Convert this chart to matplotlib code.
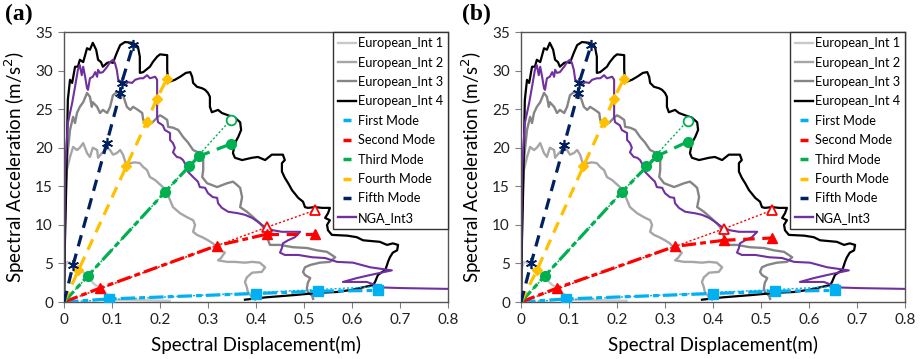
import matplotlib
matplotlib.use("Agg")
import matplotlib.pyplot as plt
from matplotlib.lines import Line2D

plt.rcParams['font.family'] = ['Lato', 'DejaVu Sans']

# ---------------- spectra (Sd [m], Sa [m/s2]) ----------------
x_int1 = [0, 0.002, 0.006, 0.0125, 0.017, 0.023, 0.029, 0.033, 0.040, 0.048, 0.054, 0.065,
          0.075, 0.085, 0.096, 0.106, 0.15, 0.22]
y_int1 = [0, 4.4, 5.2, 5.1, 4.8, 4.4, 3.9, 3.9, 3.9, 3.2, 2.9, 2.2,
          1.9, 1.3, 0.6, 0.3, 0.25, 0.15]

x_int2 = [0, 0.002, 0.004, 0.006, 0.0125, 0.019, 0.027, 0.033, 0.040, 0.048, 0.054, 0.060,
          0.069, 0.071, 0.079, 0.090, 0.096, 0.102, 0.110, 0.117, 0.123, 0.131, 0.138, 0.148,
          0.158, 0.165, 0.173, 0.179, 0.190, 0.206, 0.215, 0.221, 0.227, 0.242, 0.256, 0.269,
          0.273, 0.269, 0.277, 0.288, 0.300, 0.310, 0.319, 0.335, 0.327, 0.321, 0.340, 0.356,
          0.377, 0.392, 0.408, 0.419, 0.412, 0.392, 0.381, 0.377, 0.381, 0.383, 0.392, 0.398]
y_int2 = [0, 9.3, 14.5, 17.1, 18.8, 20.1, 19.7, 20.0, 20.6, 19.3, 18.8, 20.0,
          19.7, 18.7, 19.3, 20.0, 19.7, 19.1, 19.3, 19.7, 19.1, 17.5, 18.0, 18.1,
          18.0, 17.5, 17.1, 16.2, 15.8, 14.9, 14.1, 13.2, 12.3, 11.5, 11.0, 10.6,
          10.0, 9.1, 8.7, 8.4, 8.0, 7.6, 7.0, 6.4, 5.7, 5.4, 5.2, 5.2,
          5.1, 5.2, 5.1, 4.5, 3.9, 3.8, 3.2, 2.6, 1.9, 1.3, 0.6, 0.3]

x_int3 = [0, 0.002, 0.006, 0.0125, 0.019, 0.023, 0.027, 0.033, 0.040, 0.048, 0.054, 0.058,
          0.060, 0.069, 0.075, 0.081, 0.090, 0.096, 0.102, 0.110, 0.117, 0.123, 0.131, 0.138,
          0.144, 0.154, 0.163, 0.165, 0.173, 0.183, 0.194, 0.200, 0.206, 0.215, 0.217, 0.227,
          0.238, 0.248, 0.258, 0.269, 0.283, 0.290, 0.290, 0.288, 0.298, 0.319, 0.340, 0.352,
          0.360, 0.367, 0.371, 0.367, 0.381, 0.394, 0.408, 0.415, 0.423, 0.429, 0.450, 0.477,
          0.506, 0.527, 0.548, 0.565, 0.554, 0.533, 0.513, 0.502, 0.498, 0.502, 0.513, 0.508,
          0.506, 0.508, 0.517, 0.519]
y_int3 = [0, 13.2, 18.4, 22.3, 24.0, 23.2, 24.5, 25.3, 25.9, 27.1, 26.6, 25.3,
          25.9, 25.3, 24.5, 24.9, 24.5, 25.3, 26.8, 27.2, 27.1, 26.8, 25.3, 24.9,
          25.3, 24.9, 24.5, 23.6, 23.2, 23.2, 23.9, 24.2, 24.0, 23.6, 22.7, 22.6,
          22.3, 21.4, 20.7, 19.7, 19.3, 18.4, 17.1, 16.2, 15.4, 14.9, 15.4, 15.6,
          15.2, 14.8, 13.6, 12.3, 11.7, 11.0, 10.2, 9.7, 8.4, 7.4, 7.4, 7.1,
          7.0, 6.7, 6.5, 5.8, 5.2, 5.1, 4.8, 4.5, 3.9, 3.5, 3.1, 2.5,
          1.8, 1.3, 0.8, 0.4]

x_int4 = [0, 0.002, 0.004, 0.008, 0.0125, 0.017, 0.023, 0.029, 0.033, 0.040, 0.048, 0.054,
          0.060, 0.067, 0.071, 0.077, 0.081, 0.090, 0.096, 0.102, 0.110, 0.117, 0.127, 0.142,
          0.154, 0.158, 0.158, 0.165, 0.179, 0.185, 0.194, 0.200, 0.215, 0.215, 0.217, 0.231,
          0.242, 0.254, 0.263, 0.267, 0.269, 0.277, 0.288, 0.294, 0.300, 0.304, 0.304, 0.308,
          0.321, 0.329, 0.342, 0.356, 0.367, 0.369, 0.363, 0.356, 0.352, 0.356, 0.371, 0.392,
          0.404, 0.419, 0.433, 0.456, 0.460, 0.454, 0.454, 0.460, 0.467, 0.475, 0.488, 0.498,
          0.502, 0.508, 0.523, 0.538, 0.554, 0.550, 0.544, 0.554, 0.548, 0.550, 0.558, 0.590,
          0.610, 0.623, 0.658, 0.673, 0.685, 0.696, 0.694, 0.685, 0.679, 0.675, 0.673, 0.669,
          0.663, 0.654, 0.648, 0.644, 0.602, 0.569, 0.533, 0.48, 0.42, 0.377]
y_int4 = [0, 8.0, 13.2, 26.2, 28.8, 28.4, 30.5, 30.5, 31.4, 31.1, 32.9, 32.7,
          33.6, 32.7, 31.4, 31.1, 30.5, 31.0, 31.1, 31.0, 32.3, 33.3, 33.7, 33.6,
          33.1, 31.8, 29.7, 29.8, 30.5, 31.1, 31.8, 32.1, 32.0, 30.1, 28.5, 28.8,
          29.2, 29.7, 29.8, 29.2, 28.4, 27.9, 27.7, 27.5, 27.1, 26.6, 25.3, 24.6,
          24.9, 24.5, 24.2, 23.9, 23.3, 22.3, 21.4, 20.6, 19.3, 18.7, 18.4, 18.7,
          18.8, 18.4, 19.1, 19.1, 18.4, 18.0, 16.9, 16.1, 15.4, 14.5, 13.5, 13.0,
          12.3, 12.2, 12.3, 12.2, 12.2, 11.5, 10.9, 10.6, 10.0, 9.3, 8.7, 8.6,
          8.4, 8.0, 7.8, 7.4, 7.6, 7.4, 6.7, 6.4, 5.8, 5.2, 4.8, 4.1,
          3.9, 3.5, 2.6, 2.2, 1.6, 1.3, 1.2, 0.9, 0.6, 0.3]

x_nga = [0, 0.002, 0.008, 0.017, 0.023, 0.029, 0.033, 0.037, 0.040, 0.044, 0.048, 0.050,
         0.054, 0.060, 0.065, 0.069, 0.071, 0.075, 0.081, 0.090, 0.096, 0.102, 0.106, 0.110,
         0.113, 0.121, 0.127, 0.133, 0.142, 0.148, 0.158, 0.165, 0.173, 0.179, 0.190, 0.194,
         0.194, 0.194, 0.194, 0.196, 0.206, 0.210, 0.221, 0.221, 0.227, 0.231, 0.227, 0.235,
         0.242, 0.248, 0.256, 0.258, 0.269, 0.279, 0.283, 0.294, 0.300, 0.310, 0.319, 0.321,
         0.329, 0.342, 0.363, 0.377, 0.392, 0.404, 0.419, 0.435, 0.454, 0.475, 0.492, 0.481,
         0.467, 0.456, 0.454, 0.450, 0.460, 0.488, 0.517, 0.544, 0.569, 0.602, 0.638, 0.683,
         0.638, 0.610, 0.581, 0.631, 0.648, 0.654, 0.706, 0.80]
y_nga = [0, 17.1, 23.2, 25.8, 27.9, 30.1, 30.7, 29.4, 30.5, 29.2, 27.7, 27.5,
         29.0, 29.2, 29.8, 29.2, 30.1, 29.7, 29.8, 30.5, 31.1, 31.4, 31.0, 30.1,
         28.8, 28.5, 28.1, 28.5, 28.4, 28.8, 29.0, 29.0, 29.4, 29.0, 29.2, 28.8,
         27.1, 25.3, 24.0, 23.3, 22.9, 22.3, 21.9, 21.0, 20.6, 20.0, 19.4, 18.8,
         18.7, 18.4, 17.5, 16.9, 16.2, 15.6, 14.9, 14.8, 14.1, 13.6, 13.5, 12.8,
         12.2, 11.7, 11.5, 11.3, 10.9, 10.4, 9.7, 9.3, 9.1, 9.1, 9.1, 8.4,
         8.0, 7.6, 7.0, 6.4, 6.1, 6.1, 5.8, 5.7, 5.2, 5.1, 4.5, 4.1,
         3.5, 3.1, 2.6, 2.6, 2.2, 1.9, 1.8, 1.7]

# ---------------- modal capacity points, panel (a) ----------------
a_m1_fill_x = [0, 0.094, 0.40, 0.53, 0.655]
a_m1_fill_y = [0, 0.4, 1.1, 1.4, 1.5]
a_m1_open_x = [0, 0.655]
a_m1_open_y = [0, 2.0]
a_m2_fill_x = [0, 0.075, 0.318, 0.423, 0.523]
a_m2_fill_y = [0, 1.8, 7.3, 8.8, 8.8]
a_m2_open_x = [0, 0.423, 0.523]
a_m2_open_y = [0, 9.7, 11.9]
a_m3_fill_x = [0, 0.05, 0.211, 0.281, 0.348]
a_m3_fill_y = [0, 3.4, 14.3, 18.9, 20.5]
a_m3_open_x = [0, 0.26, 0.347]
a_m3_open_y = [0, 17.6, 23.6]
a_m4_x = [0, 0.03, 0.13, 0.172, 0.193, 0.214]
a_m4_y = [0, 4.1, 17.6, 23.3, 26.3, 28.9]
a_m5_x = [0, 0.019, 0.089, 0.117, 0.12, 0.144]
a_m5_y = [0, 4.8, 20.6, 27.1, 28.4, 33.3]

# ---------------- modal capacity points, panel (b) ----------------
b_m1_fill_x = [0, 0.094, 0.40, 0.53, 0.655]
b_m1_fill_y = [0, 0.4, 1.1, 1.4, 1.5]
b_m1_open_x = [0, 0.655]
b_m1_open_y = [0, 2.0]
b_m2_fill_x = [0, 0.075, 0.32, 0.423, 0.523]
b_m2_fill_y = [0, 1.8, 7.2, 8.0, 8.3]
b_m2_open_x = [0, 0.423, 0.523]
b_m2_open_y = [0, 9.5, 11.9]
b_m3_fill_x = [0, 0.05, 0.211, 0.283, 0.348]
b_m3_fill_y = [0, 3.4, 14.3, 18.9, 20.8]
b_m3_open_x = [0, 0.26, 0.347]
b_m3_open_y = [0, 17.6, 23.5]
b_m4_x = [0, 0.033, 0.13, 0.172, 0.193, 0.214]
b_m4_y = [0, 4.1, 17.6, 23.3, 26.3, 28.9]
b_m5_x = [0, 0.021, 0.090, 0.119, 0.121, 0.146]
b_m5_y = [0, 5.0, 20.4, 27.1, 28.4, 33.3]

legend_labels = ['European_Int 1', 'European_Int 2', 'European_Int 3', 'European_Int 4',
                 'First Mode', 'Second Mode', 'Third Mode', 'Fourth Mode', 'Fifth Mode', 'NGA_Int3']
x_ticks = [0, 0.1, 0.2, 0.3, 0.4, 0.5, 0.6, 0.7, 0.8]
x_ticklabels = ['0', '0.1', '0.2', '0.3', '0.4', '0.5', '0.6', '0.7', '0.8']
y_ticks = [0, 5, 10, 15, 20, 25, 30, 35]

C_G1, C_G2, C_G3, C_G4 = '#C8C8C8', '#A6A6A6', '#858585', '#000000'
C_M1, C_M2, C_M3, C_M4, C_M5 = '#00B0F0', '#FF0000', '#00B050', '#FFC000', '#002060'
C_NGA = '#7030A0'

DASHDOT = (0, (4.5, 1.3, 1.8, 1.3))
DASHED = (0, (3.6, 2.4))
DOTTED = (0, (1.5, 1.5))


def draw_panel(ax, m1f, m1o, m2f, m2o, m3f, m3o, m4, m5):
    ax.plot(x_int1, y_int1, color=C_G1, lw=1.7, zorder=2)
    ax.plot(x_int2, y_int2, color=C_G2, lw=1.7, zorder=2)
    ax.plot(x_int3, y_int3, color=C_G3, lw=1.7, zorder=2)
    ax.plot(x_int4, y_int4, color=C_G4, lw=1.6, zorder=2)
    ax.plot(x_nga, y_nga, color=C_NGA, lw=1.5, zorder=2)

    # first mode
    ax.plot(m1o[0], m1o[1], ls=DOTTED, color=C_M1, lw=1.0, zorder=3)
    ax.plot(m1o[0][1:], m1o[1][1:], ls='none', marker='s', mfc='white', mec=C_M1, ms=5, zorder=4)
    ax.plot(m1f[0], m1f[1], ls=DASHDOT, color=C_M1, lw=2.3, zorder=3)
    ax.plot(m1f[0][1:], m1f[1][1:], ls='none', marker='s', color=C_M1, ms=7, zorder=4)
    # second mode
    ax.plot(m2o[0], m2o[1], ls=DOTTED, color=C_M2, lw=1.0, zorder=3)
    ax.plot(m2o[0][1:], m2o[1][1:], ls='none', marker='^', mfc='white', mec=C_M2, mew=1.3, ms=7, zorder=4)
    ax.plot(m2f[0][:4], m2f[1][:4], ls=DASHDOT, color=C_M2, lw=2.3, zorder=3)
    ax.plot(m2f[0][3:], m2f[1][3:], ls=DASHED, color=C_M2, lw=2.3, zorder=3)
    ax.plot(m2f[0][1:], m2f[1][1:], ls='none', marker='^', color=C_M2, ms=7, zorder=4)
    # third mode
    ax.plot(m3o[0], m3o[1], ls=DOTTED, color=C_M3, lw=1.0, zorder=3)
    ax.plot(m3o[0][1:2], m3o[1][1:2], ls='none', marker='o', color=C_M3, ms=7, zorder=4)
    ax.plot(m3o[0][2:], m3o[1][2:], ls='none', marker='o', mfc='white', mec=C_M3, mew=1.3, ms=7, zorder=4)
    ax.plot(m3f[0][:4], m3f[1][:4], ls=DASHDOT, color=C_M3, lw=2.3, zorder=3)
    ax.plot(m3f[0][3:], m3f[1][3:], ls=DASHED, color=C_M3, lw=2.3, zorder=3)
    ax.plot(m3f[0][1:], m3f[1][1:], ls='none', marker='o', color=C_M3, ms=7, zorder=4)
    # fourth mode
    ax.plot(m4[0], m4[1], ls=DASHED, color=C_M4, lw=2.3, zorder=3)
    ax.plot(m4[0][1:], m4[1][1:], ls='none', marker='D', color=C_M4, ms=5, zorder=4)
    # fifth mode
    ax.plot(m5[0], m5[1], ls=DASHED, color=C_M5, lw=2.3, zorder=3)
    ax.plot(m5[0][1:], m5[1][1:], ls='none', marker=(6, 2, 0), color=C_M5, mew=1.2, ms=8, zorder=4)

    ax.set_xlim(0, 0.8)
    ax.set_ylim(0, 35)
    ax.set_xticks(x_ticks)
    ax.set_xticklabels(x_ticklabels)
    ax.set_yticks(y_ticks)
    ax.tick_params(direction='out', length=4, width=0.8, color='#808080',
                   labelsize=11, pad=4, labelcolor='#222222')
    for s in ax.spines.values():
        s.set_color('#555555')
        s.set_linewidth(1.0)
    ax.set_xlabel('Spectral Displacement(m)', fontsize=13.5, labelpad=6)
    ax.set_ylabel('Spectral Acceleration (m/s$^2$)', fontsize=13.5, labelpad=6)

    handles = [
        Line2D([], [], color=C_G1, lw=1.7),
        Line2D([], [], color=C_G2, lw=1.7),
        Line2D([], [], color=C_G3, lw=1.7),
        Line2D([], [], color=C_G4, lw=1.7),
        Line2D([], [], ls='none', marker='_', ms=6, mew=2.5, color=C_M1),
        Line2D([], [], ls='none', marker='_', ms=6, mew=2.5, color=C_M2),
        Line2D([], [], ls='none', marker='_', ms=6, mew=2.5, color=C_M3),
        Line2D([], [], ls='none', marker='_', ms=6, mew=2.5, color=C_M4),
        Line2D([], [], ls='none', marker='_', ms=6, mew=2.5, color=C_M5),
        Line2D([], [], color=C_NGA, lw=1.7),
    ]
    leg = ax.legend(handles, legend_labels, loc='upper right', bbox_to_anchor=(1.0, 1.0),
                    borderaxespad=0, fontsize=9.2, frameon=True, fancybox=False,
                    handlelength=1.4, handletextpad=0.15, labelspacing=0.58,
                    borderpad=0.4)
    leg.get_frame().set_edgecolor('#333333')
    leg.get_frame().set_linewidth(1.0)
    leg.get_frame().set_alpha(1.0)
    leg.set_zorder(10)


fig = plt.figure(figsize=(9.21, 3.59), dpi=100)
ax_a = fig.add_axes([64 / 921, 57 / 359, 384 / 921, 270 / 359])
ax_b = fig.add_axes([521 / 921, 57 / 359, 384 / 921, 270 / 359])

draw_panel(ax_a, (a_m1_fill_x, a_m1_fill_y), (a_m1_open_x, a_m1_open_y),
           (a_m2_fill_x, a_m2_fill_y), (a_m2_open_x, a_m2_open_y),
           (a_m3_fill_x, a_m3_fill_y), (a_m3_open_x, a_m3_open_y),
           (a_m4_x, a_m4_y), (a_m5_x, a_m5_y))
draw_panel(ax_b, (b_m1_fill_x, b_m1_fill_y), (b_m1_open_x, b_m1_open_y),
           (b_m2_fill_x, b_m2_fill_y), (b_m2_open_x, b_m2_open_y),
           (b_m3_fill_x, b_m3_fill_y), (b_m3_open_x, b_m3_open_y),
           (b_m4_x, b_m4_y), (b_m5_x, b_m5_y))

fig.text(5 / 921, 1 - 4 / 359, '(a)', fontsize=17, fontweight='bold',
         family=['Liberation Serif', 'DejaVu Serif'], ha='left', va='top')
fig.text(462 / 921, 1 - 4 / 359, '(b)', fontsize=17, fontweight='bold',
         family=['Liberation Serif', 'DejaVu Serif'], ha='left', va='top')

fig.savefig('out.png', dpi=100)
